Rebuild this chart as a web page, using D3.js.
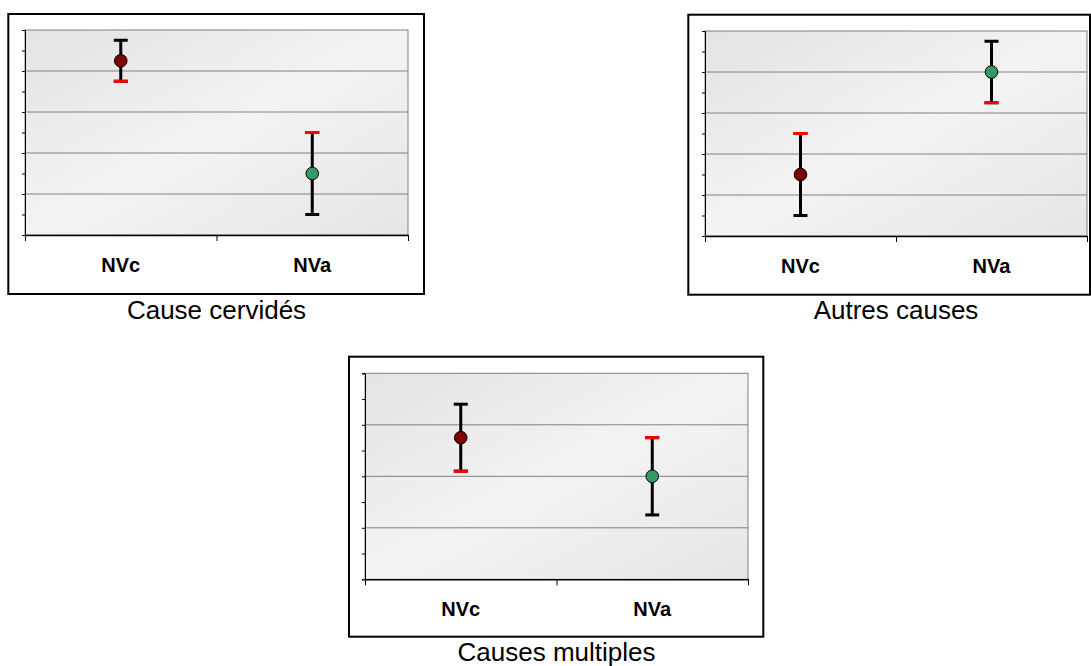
<!DOCTYPE html>
<html>
<head>
<meta charset="utf-8">
<script src="https://cdn.jsdelivr.net/npm/d3@7"></script>
<style>
  body { margin: 0; background: #fff; }
  svg { display: block; font-family: "Liberation Sans", Arial, sans-serif; }
</style>
</head>
<body>
<svg id="chart" width="1091" height="666"></svg>
<script>
// Data
const categories = ['NVc', 'NVa'];
const panelTitles = ['Cause cervidés', 'Autres causes', 'Causes multiples'];
const moyennes = [[8.5, 3], [3, 8], [5.5, 4]];
const bornesHautes = [[9.5, 5], [5, 9.5], [6.8, 5.5]];
const bornesBasses = [[7.5, 1], [1, 6.5], [4.2, 2.5]];
const yMax = [10, 10, 8];
// which end of each bar carries the red cap
const capRouge = [['bas', 'haut'], ['haut', 'bas'], ['bas', 'haut']];

const svg = d3.select('#chart');

// Layout of the three panels (frame box + plot area inside it)
const panels = [
    { fx: 8.3, fy: 14, fw: 415.7, fh: 280, px: 25, py: 30, pw: 383, ph: 205 },
    { fx: 688.3, fy: 14.7, fw: 401.7, fh: 280, px: 705, py: 31, pw: 382, ph: 205 },
    { fx: 349, fy: 356.7, fw: 414.3, fh: 280, px: 365, py: 373.3, pw: 383, ph: 206 }
];

const markerColor = d3.scaleOrdinal().domain(categories).range(['#800000', '#339966']);

// background gradient for the plot areas
const grad = svg.append('defs').append('linearGradient')
    .attr('id', 'bg')
    .attr('x1', 0).attr('y1', 0).attr('x2', 1).attr('y2', 1);
grad.append('stop').attr('offset', 0).attr('stop-color', '#e3e3e3');
grad.append('stop').attr('offset', 0.5).attr('stop-color', '#f3f3f3');
grad.append('stop').attr('offset', 1).attr('stop-color', '#e6e6e6');

const drawPanel = (i) => {
    const p = panels[i];

    // outer frame
    svg.append('rect')
        .attr('x', p.fx).attr('y', p.fy)
        .attr('width', p.fw).attr('height', p.fh)
        .attr('fill', '#fff')
        .attr('stroke', '#000')
        .attr('stroke-width', 2);

    const g = svg.append('g').attr('transform', `translate(${p.px},${p.py})`);

    const yScale = d3.scaleLinear().domain([0, yMax[i]]).range([p.ph, 0]);
    const xScale = d3.scaleBand().domain(categories).range([0, p.pw]);
    const xEdges = d3.scaleLinear().domain([0, categories.length]).range([0, p.pw]);

    // plot background
    g.append('rect')
        .attr('width', p.pw).attr('height', p.ph)
        .attr('fill', 'url(#bg)')
        .attr('stroke', '#808080')
        .attr('stroke-width', 1);

    // horizontal gridlines every 2 units
    g.append('g')
        .selectAll('line')
        .data(d3.range(2, yMax[i], 2))
        .join('line')
        .attr('x1', 0).attr('x2', p.pw)
        .attr('y1', d => yScale(d)).attr('y2', d => yScale(d))
        .attr('stroke', '#808080')
        .attr('stroke-width', 1);

    // y axis: ticks only, no labels
    g.append('g')
        .call(d3.axisLeft(yScale).tickValues(d3.range(0, yMax[i] + 1, 1)).tickSize(3).tickFormat(''))
        .call(a => a.select('.domain').attr('stroke', '#000'))
        .call(a => a.selectAll('.tick line').attr('stroke', '#000'));

    // x axis: boundary ticks
    g.append('g')
        .attr('transform', `translate(0,${p.ph})`)
        .call(d3.axisBottom(xEdges).tickValues(d3.range(0, categories.length + 1)).tickSize(6).tickSizeOuter(0).tickFormat(''))
        .call(a => a.select('.domain').attr('stroke', '#000').attr('stroke-width', 1.5));

    // category labels
    g.append('g')
        .attr('transform', `translate(0,${p.ph})`)
        .call(d3.axisBottom(xScale).tickSize(0).tickPadding(23))
        .call(a => a.select('.domain').remove())
        .call(a => a.selectAll('text')
            .attr('font-family', '"Liberation Sans", Arial, sans-serif')
            .attr('font-size', 20)
            .attr('font-weight', 'bold')
            .attr('fill', '#000'));

    // error bars
    const capHalf = 7;
    categories.forEach((cat, j) => {
        const cx = xScale(cat) + xScale.bandwidth() / 2;
        const yHi = yScale(bornesHautes[i][j]);
        const yLo = yScale(bornesBasses[i][j]);

        g.append('line')
            .attr('x1', cx).attr('x2', cx)
            .attr('y1', yHi).attr('y2', yLo)
            .attr('stroke', '#000').attr('stroke-width', 3);

        [['haut', yHi], ['bas', yLo]].forEach(([end, y]) => {
            g.append('line')
                .attr('x1', cx - capHalf).attr('x2', cx + capHalf)
                .attr('y1', y).attr('y2', y)
                .attr('stroke', '#000').attr('stroke-width', 3);
            if (capRouge[i][j] === end) {
                g.append('line')
                    .attr('x1', cx - capHalf).attr('x2', cx + capHalf)
                    .attr('y1', y).attr('y2', y)
                    .attr('stroke', '#ff0000').attr('stroke-width', 3);
            }
        });

        g.append('circle')
            .attr('cx', cx)
            .attr('cy', yScale(moyennes[i][j]))
            .attr('r', 6.3)
            .attr('fill', markerColor(cat))
            .attr('stroke', '#000')
            .attr('stroke-width', 1);
    });

    // caption under the frame
    svg.append('text')
        .attr('x', p.px + p.pw / 2)
        .attr('y', p.fy + p.fh + 24.5)
        .attr('text-anchor', 'middle')
        .attr('font-size', 26)
        .attr('fill', '#000')
        .text(panelTitles[i]);
};

panels.forEach((p, i) => drawPanel(i));
</script>
</body>
</html>
